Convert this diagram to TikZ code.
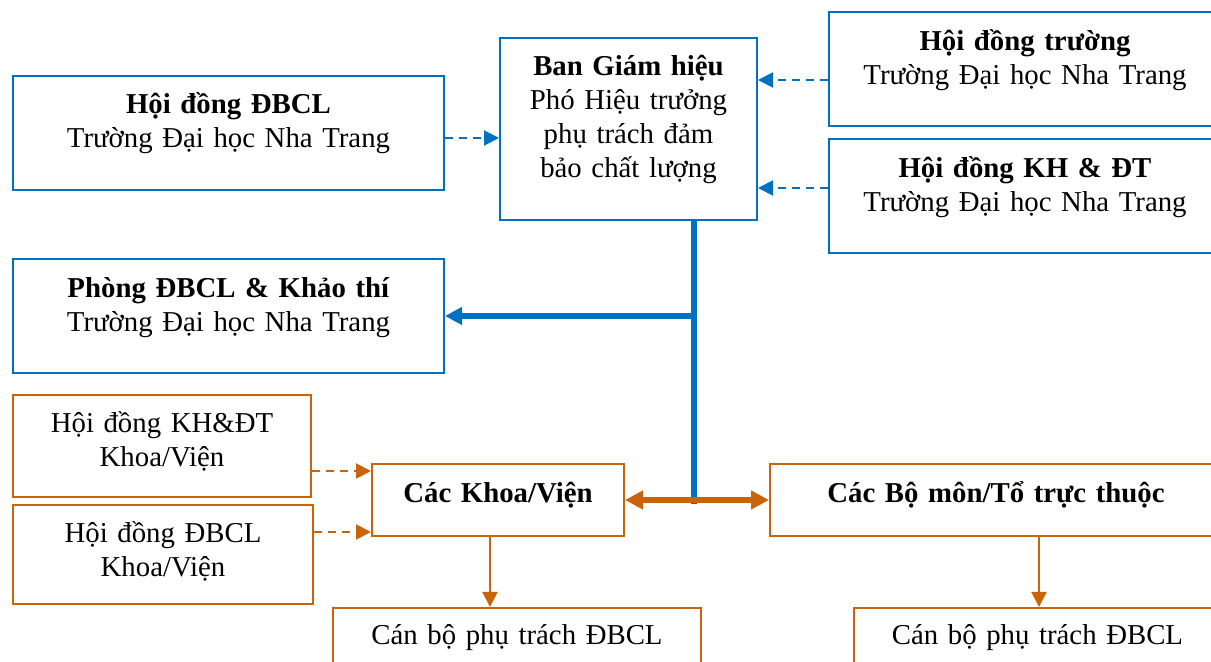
\documentclass[tikz,border=0pt]{standalone}
\usepackage{fontspec}
\setmainfont{Liberation Serif}
\usetikzlibrary{arrows.meta}
\definecolor{cblue}{HTML}{0070C0}
\definecolor{corange}{HTML}{C96508}
\begin{document}
\begin{tikzpicture}[x=0.5pt,y=-0.5pt,
  box/.style={draw, line width=1pt, inner sep=0pt, align=center, anchor=north west,
    font=\fontsize{14.4pt}{17pt}\selectfont},
  bbox/.style={box, draw=cblue},
  obox/.style={box, draw=corange},
  bdash/.style={draw=cblue, line width=1pt, dash pattern=on 4pt off 3pt,
    -{Triangle[length=7.5pt,width=7.5pt]}},
  odash/.style={draw=corange, line width=1pt, dash pattern=on 4pt off 3pt,
    -{Triangle[length=7.5pt,width=7.5pt]}},
  bthick/.style={draw=cblue, line width=2.75pt},
  othick/.style={draw=corange, line width=2.75pt},
  othin/.style={draw=corange, line width=1pt, -{Triangle[length=7.5pt,width=7.5pt]}}
]
\path[use as bounding box, clip] (0,0) rectangle (1211,662);

% blue boxes
\node[bbox, text width=215.5pt, text height=19pt, text depth=38pt] (hdbcl) at (12,75)
  {\textbf{Hội đồng ĐBCL}\\Trường Đại học Nha Trang};
\node[bbox, text width=128.5pt, text height=19pt, text depth=72pt] (bgh) at (499,37)
  {\textbf{Ban Giám hiệu}\\Phó Hiệu trưởng\\phụ trách đảm\\bảo chất lượng};
\node[bbox, text width=196pt, text height=19.5pt, text depth=37.5pt] (hdt) at (828,11)
  {\textbf{Hội đồng trường}\\Trường Đại học Nha Trang};
\node[bbox, text width=196pt, text height=19.5pt, text depth=37.5pt] (hdkh) at (828,138)
  {\textbf{Hội đồng KH \& ĐT}\\Trường Đại học Nha Trang};
\node[bbox, text width=215.5pt, text height=19.5pt, text depth=37.5pt] (phong) at (12,258)
  {\textbf{Phòng ĐBCL \& Khảo thí}\\Trường Đại học Nha Trang};

% orange boxes
\node[obox, text width=149pt, text height=19pt, text depth=32pt] (khkhoa) at (12,394)
  {Hội đồng KH\&ĐT\\Khoa/Viện};
\node[obox, text width=150pt, text height=19pt, text depth=30.5pt] (dbclkhoa) at (12,504)
  {Hội đồng ĐBCL\\Khoa/Viện};
\node[obox, text width=126pt, text height=19.5pt, text depth=16.5pt] (khoa) at (371,463)
  {\textbf{Các Khoa/Viện}};
\node[obox, text width=226pt, text height=19.5pt, text depth=16.5pt] (bomon) at (769,463)
  {\textbf{Các Bộ môn/Tổ trực thuộc}};
\node[obox, text width=184pt, text height=18.5pt, text depth=40pt] (canbo1) at (332,607)
  {Cán bộ phụ trách ĐBCL};
\node[obox, text width=183.5pt, text height=18.5pt, text depth=40pt] (canbo2) at (853,607)
  {Cán bộ phụ trách ĐBCL};

% dashed blue arrows
\coordinate (a1) at ([yshift=-2.5pt]hdbcl.east);
\draw[bdash] (a1) -- (a1 -| bgh.west);
\coordinate (a2) at ([yshift=-5.5pt]hdt.west);
\draw[bdash] (a2) -- (a2 -| bgh.east);
\coordinate (a3) at ([yshift=4pt]hdkh.west);
\draw[bdash] (a3) -- (a3 -| bgh.east);

% thick blue trunk
\coordinate (v0) at ([xshift=32.75pt]bgh.south);
\coordinate (v1) at ([yshift=-2pt]v0 |- khoa.east);
\draw[bthick] (v0) -- (v1);
\draw[bthick, -{Triangle[length=8.5pt,width=8.5pt]}] (v0 |- phong.east) -- (phong.east);

% orange connections
\draw[othick, {Triangle[length=9pt,width=9pt]}-{Triangle[length=9pt,width=9pt]}] (khoa.east) -- (bomon.west);
\coordinate (d1) at ([yshift=-4pt]khoa.north west);
\draw[odash] (d1 -| khkhoa.east) -- (d1);
\coordinate (d2) at ([yshift=2.5pt]khoa.south west);
\draw[odash] (d2 -| dbclkhoa.east) -- (d2);
\coordinate (k1) at ([xshift=-4pt]khoa.south);
\draw[othin] (k1) -- (k1 |- canbo1.north);
\coordinate (k2) at ([xshift=21.5pt]bomon.south);
\draw[othin] (k2) -- (k2 |- canbo2.north);
\end{tikzpicture}
\end{document}
